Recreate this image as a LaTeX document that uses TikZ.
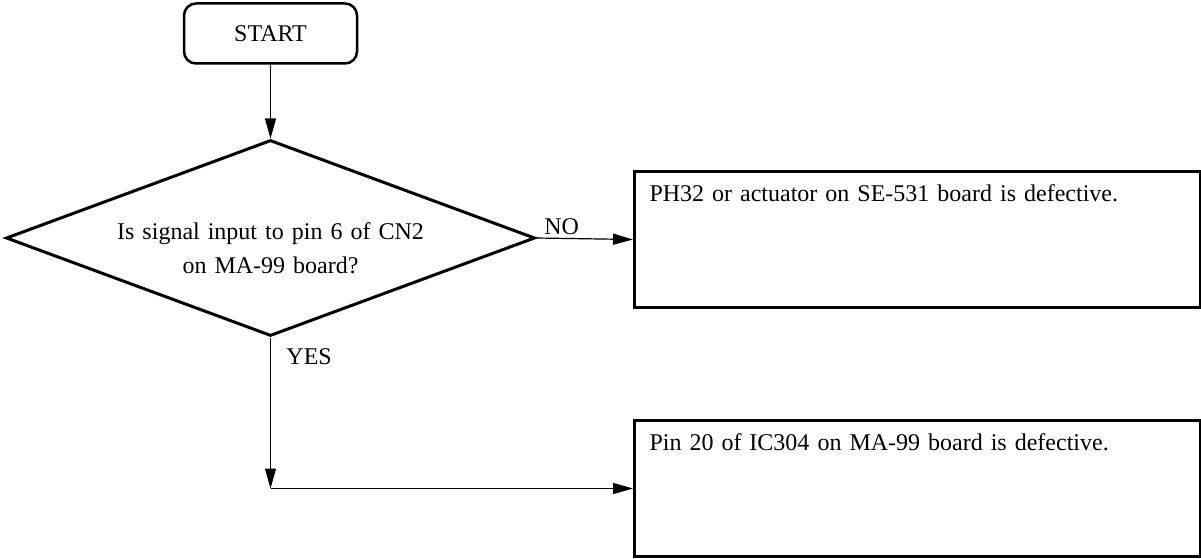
\documentclass[tikz,border=0pt]{standalone}
\usepackage{fontspec}
\setmainfont{Liberation Serif}
\usetikzlibrary{arrows.meta,shapes.geometric,positioning}
\tikzset{startbox/.style={draw,line width=2.5pt,rounded corners=12pt,minimum width=173pt,minimum height=60pt,inner sep=0pt},
  decision/.style={draw,diamond,line width=3pt,aspect=2.7,inner sep=0pt,minimum width=529pt,minimum height=196pt,
    text width=318pt,align=center,text height=38pt},
  result/.style={draw,line width=3pt,anchor=north west,inner xsep=15pt,inner ysep=14pt,text width=536pt,align=left,
    text height=16pt,text depth=92pt},
  arr/.style={-{Triangle[length=20pt,width=11pt]},line width=1.2pt}}

\begin{document}
\begin{tikzpicture}[x=1pt,y=-1pt,every node/.style={font=\fontsize{24}{34}\selectfont}]
\useasboundingbox (0,0) rectangle (1201,559);
\node[startbox] (start) at (270.5,33.5) {START};
\node[decision] (q) at (270.5,238) {Is signal input to pin 6 of CN2\\on MA-99 board?};
\node[result] (r1) at (633,170) {PH32 or actuator on SE-531 board is defective.};
\node[result] (r2) at (633,419) {Pin 20 of IC304 on MA-99 board is defective.};
\coordinate (bend) at (q.south |- r2.west);
% connectors
\draw[arr] (start) -- (q.north);
\draw[arr] (q.east) -- node[above,pos=0.26]{NO} (r1.west);
\draw[arr] (q.south) -- node[right,pos=0.125,xshift=12pt]{YES} (bend);
\draw[arr] (bend) -- (r2.west);
\end{tikzpicture}
\end{document}
